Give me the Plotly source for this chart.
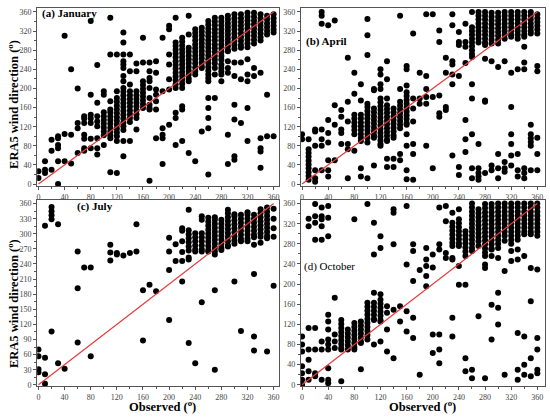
import plotly.graph_objects as go
from plotly.subplots import make_subplots

jan_obs = [0, 10, 20, 30, 40, 50, 60, 70, 80, 90, 100, 110, 120, 130, 140, 150, 160, 170, 180,
           190, 200, 210, 220, 230, 240, 250, 260, 270, 280, 290, 300, 310, 320, 330, 340, 350, 360]
jan_era = [
    [27, 13],
    [48, 23, 30],
    [93, 70, 30],
    [100, 96, 82, 75, 48, 0],
    [310, 105, 48],
    [240, 103, 43],
    [200, 128, 117, 65],
    [142, 137, 128, 103, 95, 75, 70],
    [341, 187, 145, 137, 128, 95, 75],
    [249, 170, 142, 131, 121, 96, 75, 62],
    [194, 187, 150, 142, 134, 126, 118, 110, 102, 82],
    [348, 271, 173, 156, 150, 142, 134, 126, 118, 110, 102, 96, 25],
    [271, 194, 180, 172, 164, 156, 148, 140, 132, 124, 116, 108, 100, 90, 23],
    [317, 296, 271, 257, 250, 243, 226, 215, 201, 193, 185, 177, 169, 161, 153, 145, 137, 129, 121, 113, 90, 58],
    [271, 236, 208, 194, 186, 178, 170, 162, 154, 146, 138, 130, 90],
    [252, 236, 194, 186, 178, 170, 162, 154, 146, 138, 114],
    [306, 254, 215, 207, 199, 191, 183, 175, 167, 159],
    [254, 236, 222, 215, 201, 180, 166, 159, 156, 7],
    [257, 233, 198, 187, 173, 156, 96],
    [306, 194, 117, 103, 96, 42],
    [331, 324, 271, 250, 219, 198, 124],
    [348, 296, 289, 281, 273, 265, 257, 249, 241, 233, 225, 217, 209, 201, 149, 138, 82],
    [306, 298, 290, 282, 274, 266, 258, 250, 242, 234, 226, 218, 210, 201, 163, 156, 90],
    [352, 313, 285, 277, 269, 261, 253, 245, 237, 229, 221, 215, 65],
    [324, 316, 308, 300, 292, 284, 276, 268, 260, 252, 244, 236, 229, 48],
    [327, 319, 311, 303, 295, 287, 279, 271, 263, 255, 247, 243, 110],
    [341, 333, 325, 317, 309, 301, 293, 285, 277, 269, 261, 253, 245, 237, 229, 222, 215, 180, 159, 138, 117, 20],
    [348, 340, 332, 324, 316, 308, 300, 292, 284, 276, 268, 260, 252, 243, 229, 180],
    [348, 340, 332, 324, 316, 308, 300, 292, 284, 276, 268, 260, 250, 243, 236, 229, 215],
    [352, 344, 336, 328, 320, 312, 304, 296, 288, 280, 278, 257, 243, 233, 103, 42],
    [355, 347, 339, 331, 323, 315, 307, 299, 291, 283, 254, 226, 166, 135, 58, 51],
    [355, 347, 339, 331, 323, 315, 307, 299, 291, 285, 254, 219, 128],
    [358, 350, 342, 334, 326, 318, 310, 302, 294, 286, 261, 229, 215, 159, 90],
    [358, 350, 342, 334, 326, 318, 310, 302, 294, 243, 226],
    [355, 347, 339, 331, 323, 315, 307, 300, 233, 96, 75, 68, 34],
    [352, 344, 336, 328, 320, 313, 187, 100],
    [355, 347, 339, 331, 323, 317, 100],
]

apr_obs = [0, 10, 20, 30, 40, 50, 60, 70, 80, 90, 100, 110, 120, 130, 140, 150, 160, 170, 180,
           190, 200, 210, 220, 230, 240, 250, 260, 270, 280, 290, 300, 310, 320, 330, 340, 350, 360]
apr_era = [
    [104, 94],
    [94, 73, 65, 57, 49, 41, 33, 25, 17, 9],
    [114, 110, 80, 29, 12, 5],
    [360, 352, 335, 114, 94, 80, 29],
    [332, 134, 107, 87, 50, 29, 16],
    [342, 165, 124, 50],
    [155, 141, 114, 107, 84],
    [264, 172, 131, 84, 73, 12],
    [233, 189, 145, 137, 129, 121, 113, 104, 70],
    [209, 175, 145, 137, 129, 121, 113, 105, 97, 90, 33, 16],
    [345, 311, 270, 168, 161, 153, 145, 137, 129, 121, 113, 105, 97, 87, 12],
    [199, 196, 158, 150, 142, 134, 126, 118, 110, 102, 97, 39],
    [240, 229, 209, 199, 179, 171, 163, 155, 147, 139, 131, 123, 115, 107, 99, 91, 84, 80],
    [257, 219, 179, 165, 157, 149, 141, 133, 125, 117, 109, 101, 93, 90, 53, 36],
    [158, 150, 142, 134, 126, 118, 110, 102, 97, 53, 36],
    [352, 199, 172, 164, 156, 148, 140, 132, 124, 117, 63, 50],
    [247, 240, 206, 192, 184, 176, 168, 160, 152, 144, 136, 128, 124, 104, 80, 29, 10],
    [315, 179, 158, 131, 84, 63, 9],
    [233, 179, 168],
    [355, 226, 199, 182, 168, 80],
    [355, 182, 33],
    [321, 297, 185, 148, 141],
    [264, 233, 161, 155],
    [355, 332, 257, 250, 229, 209, 60],
    [318, 297, 291, 226, 36, 19],
    [335, 297, 287, 253, 134, 94, 67],
    [360, 328, 320, 312, 304, 296, 288, 280, 272, 266, 209, 179, 104, 33, 12],
    [360, 352, 344, 336, 328, 320, 312, 304, 296, 84, 33, 23, 16, 9],
    [360, 352, 344, 336, 328, 320, 312, 304, 296, 291, 262, 175, 172, 23],
    [358, 350, 342, 334, 326, 318, 310, 302, 294, 257, 39, 29],
    [358, 350, 342, 334, 326, 318, 310, 302, 294, 245, 63, 33, 12],
    [360, 352, 344, 336, 328, 320, 312, 304, 257, 46, 33, 26],
    [360, 352, 344, 336, 328, 320, 312, 308, 233, 161, 104, 84, 60, 39],
    [360, 352, 344, 336, 328, 320, 312, 304, 240, 63, 29, 16],
    [360, 352, 344, 336, 328, 320, 312, 308, 287, 254, 240, 33, 23, 12],
    [360, 352, 344, 336, 328, 320, 315, 124, 104, 96, 88, 80, 29],
    [355, 347, 339, 331, 323, 315, 247, 236, 97, 63, 29],
]

jul_obs = [0, 10, 20, 30, 40, 60, 70, 80, 110, 120, 130, 140, 150, 160, 170, 180, 200, 210, 220,
           230, 240, 250, 260, 270, 280, 290, 300, 310, 320, 330, 340, 350, 360]
jul_era = [
    [70, 57, 31, 25],
    [316, 54, 21, 2],
    [353, 345, 337, 329, 106],
    [319, 43],
    [32],
    [265, 192, 84],
    [233],
    [233, 57],
    [278, 263, 247],
    [262, 259],
    [257],
    [262],
    [319, 265],
    [188, 88],
    [199],
    [186],
    [292, 265, 228, 129],
    [279, 246],
    [311, 306, 285, 264, 246, 205],
    [348, 307, 299, 291, 283, 275, 267, 253, 249, 83],
    [301, 293, 285, 277, 269, 265, 43],
    [335, 328, 301, 293, 285, 277, 269, 265, 164],
    [332, 324, 316, 308, 300, 292, 284, 276, 268, 265],
    [333, 328, 320, 312, 304, 296, 288, 280, 272, 265, 259, 188, 30],
    [328, 320, 312, 304, 296, 288, 280, 272, 268],
    [348, 341, 333, 325, 317, 309, 301, 293, 285, 277, 275],
    [339, 335, 327, 319, 311, 303, 295, 287, 280, 205],
    [338, 330, 322, 314, 306, 298, 290, 285, 107],
    [343, 338, 330, 322, 314, 306, 298, 290, 285],
    [338, 330, 322, 314, 306, 298, 293, 278, 220, 96, 68],
    [349, 341, 333, 325, 317, 309, 301, 294, 282],
    [352, 344, 336, 328, 320, 312, 304, 296, 291, 66],
    [350, 330, 311, 294, 197],
]

oct_obs = [0, 10, 20, 30, 40, 50, 60, 70, 80, 90, 100, 110, 120, 130, 140, 150, 160, 170, 180,
           190, 200, 210, 220, 230, 240, 250, 260, 270, 280, 290, 300, 310, 320, 330, 340, 350, 360]
oct_era = [
    [96, 80, 66, 37, 23, 10, 0],
    [330, 315, 113, 70, 50, 27, 10],
    [359, 335, 322, 288, 113, 70, 23, 17],
    [352, 335, 329, 315, 288, 86, 70, 10],
    [355, 332, 295, 139, 126, 110, 90, 80, 70, 33, 10, 3],
    [173, 100, 86, 73],
    [129, 121, 113, 105, 97, 89, 81, 73, 70, 7],
    [110, 102, 94, 86, 78, 70],
    [329, 123, 115, 107, 99, 91, 83, 75, 70],
    [126, 118, 110, 102, 94, 86, 83, 31],
    [359, 163, 155, 147, 139, 131, 123, 115, 107, 99, 90],
    [322, 259, 183, 163, 155, 147, 139, 131, 129, 80],
    [295, 272, 180, 169, 161, 153, 145, 137, 129, 126, 86],
    [156, 143, 110, 66],
    [349, 342, 279, 149, 53],
    [156, 126],
    [355, 239, 146, 106],
    [279, 266, 206, 133, 93],
    [228, 20],
    [272, 249, 236, 216, 196],
    [259, 233, 100, 63],
    [352, 279, 269, 100, 70, 43],
    [355, 325, 262, 252],
    [342, 322, 314, 306, 298, 290, 282, 276, 252, 249, 133, 96],
    [349, 329, 321, 313, 305, 297, 289, 281, 276, 236, 199],
    [305, 297, 289, 281, 273, 265, 256, 199, 53, 27],
    [360, 352, 344, 336, 328, 320, 312, 304, 296, 288, 280, 272, 266, 30, 13],
    [349, 341, 333, 325, 317, 309, 301, 293, 285, 276, 136],
    [359, 351, 343, 335, 327, 319, 311, 303, 295, 287, 279, 271, 263, 256, 239, 232, 13],
    [359, 351, 343, 335, 327, 319, 311, 303, 295, 287, 279, 271, 269, 256, 159, 90],
    [360, 352, 344, 336, 328, 320, 312, 304, 296, 288, 280, 272, 252, 183, 153, 120],
    [360, 352, 344, 336, 328, 320, 312, 304, 296, 286, 226, 20],
    [360, 352, 344, 336, 328, 320, 312, 304, 296, 288, 280, 266, 246],
    [360, 352, 344, 336, 328, 320, 312, 304, 296, 288, 269, 249, 103, 30, 10],
    [360, 352, 344, 336, 328, 320, 312, 304, 299, 256, 96, 40, 20],
    [360, 352, 344, 336, 328, 320, 312, 304, 299, 232, 166, 53, 17],
    [360, 352, 344, 336, 328, 320, 312, 304, 296, 229, 93, 70, 30, 23],
]

one_to_one = [0, 360]
x_ticks = [0, 40, 80, 120, 160, 200, 240, 280, 320, 360]
y_ticks = [0, 40, 80, 120, 160, 200, 240, 280, 320, 360]
y_ticks_jul = [0, 30, 60, 90, 120, 150, 180, 210, 240, 270, 300, 330, 360]

panels = [
    (jan_obs, jan_era, 1, 1),
    (apr_obs, apr_era, 1, 2),
    (jul_obs, jul_era, 2, 1),
    (oct_obs, oct_era, 2, 2),
]

serif = "Liberation Serif"

fig = make_subplots(rows=2, cols=2)

for obs, era, r, c in panels:
    xs, ys = [], []
    for o, col in zip(obs, era):
        xs += [o] * len(col)
        ys += col
    fig.add_trace(go.Scatter(x=xs, y=ys, mode="markers",
                             marker=dict(color="black", size=6, symbol="circle"),
                             showlegend=False), row=r, col=c)
    fig.add_trace(go.Scatter(x=one_to_one, y=one_to_one, mode="lines",
                             line=dict(color="#e8383a", width=1.2),
                             showlegend=False), row=r, col=c)

axis_style = dict(showgrid=False, zeroline=False, showline=True, mirror=True,
                  linecolor="#555", linewidth=1, ticks="outside", ticklen=3,
                  tickcolor="#555", tickfont=dict(family=serif, size=8, color="#444"),
                  minor=dict(ticks="outside", ticklen=2, tickcolor="#555"))

fig.update_xaxes(**axis_style, tickvals=x_ticks)
fig.update_xaxes(minor_dtick=20)
fig.update_yaxes(**axis_style)

# panel placement in paper coordinates
fig.update_layout(
    xaxis=dict(domain=[0.066, 0.507], range=[-2, 368]),
    xaxis2=dict(domain=[0.547, 0.993], range=[-2, 372]),
    xaxis3=dict(domain=[0.066, 0.507], range=[-2, 368]),
    xaxis4=dict(domain=[0.547, 0.993], range=[-2, 372]),
    yaxis=dict(domain=[0.552, 0.984], range=[-4, 369], tickvals=y_ticks, minor_dtick=20),
    yaxis2=dict(domain=[0.552, 0.984], range=[-4, 369], tickvals=y_ticks, minor_dtick=20),
    yaxis3=dict(domain=[0.067, 0.518], range=[-3, 367], tickvals=y_ticks_jul, minor_dtick=15),
    yaxis4=dict(domain=[0.067, 0.518], range=[-3, 367], tickvals=y_ticks, minor_dtick=20),
)

H = 417.0
W = 550.0
bold = dict(family=serif, size=12.5, color="black", weight="bold")
notes = [
    dict(text="ERA5 wind direction (<sup>o</sup>)", x=12 / W, y=1 - 104 / H, textangle=-90,
         xanchor="center", font=bold),
    dict(text="ERA5 wind direction (<sup>o</sup>)", x=12 / W, y=1 - 305 / H, textangle=-90,
         xanchor="center", font=bold),
    dict(text="Observed (<sup>o</sup>)", x=162 / W, y=1 - 408.5 / H, xanchor="center", font=bold),
    dict(text="Observed (<sup>o</sup>)", x=423 / W, y=1 - 408.5 / H, xanchor="center", font=bold),
    dict(text="(a) January", x=39 / W, y=1 - 13 / H, xanchor="left",
         font=dict(family=serif, size=11, color="black", weight="bold")),
    dict(text="(b) April", x=304 / W, y=1 - 41 / H, xanchor="left",
         font=dict(family=serif, size=11, color="black", weight="bold")),
    dict(text="(c) July", x=74 / W, y=1 - 207 / H, xanchor="left",
         font=dict(family=serif, size=11, color="black", weight="bold")),
    dict(text="(d) October", x=302 / W, y=1 - 268 / H, xanchor="left",
         font=dict(family=serif, size=11, color="black")),
]
for n in notes:
    fig.add_annotation(xref="paper", yref="paper", showarrow=False, yanchor="middle", **n)

fig.update_layout(width=550, height=417, margin=dict(l=0, r=0, t=0, b=0),
                  plot_bgcolor="white", paper_bgcolor="white")

# the page body has a default margin; drop it so the figure sits at the window corner
fig.write_html("out.html", config={"displayModeBar": False},
               post_script="document.body.style.margin='0';")
